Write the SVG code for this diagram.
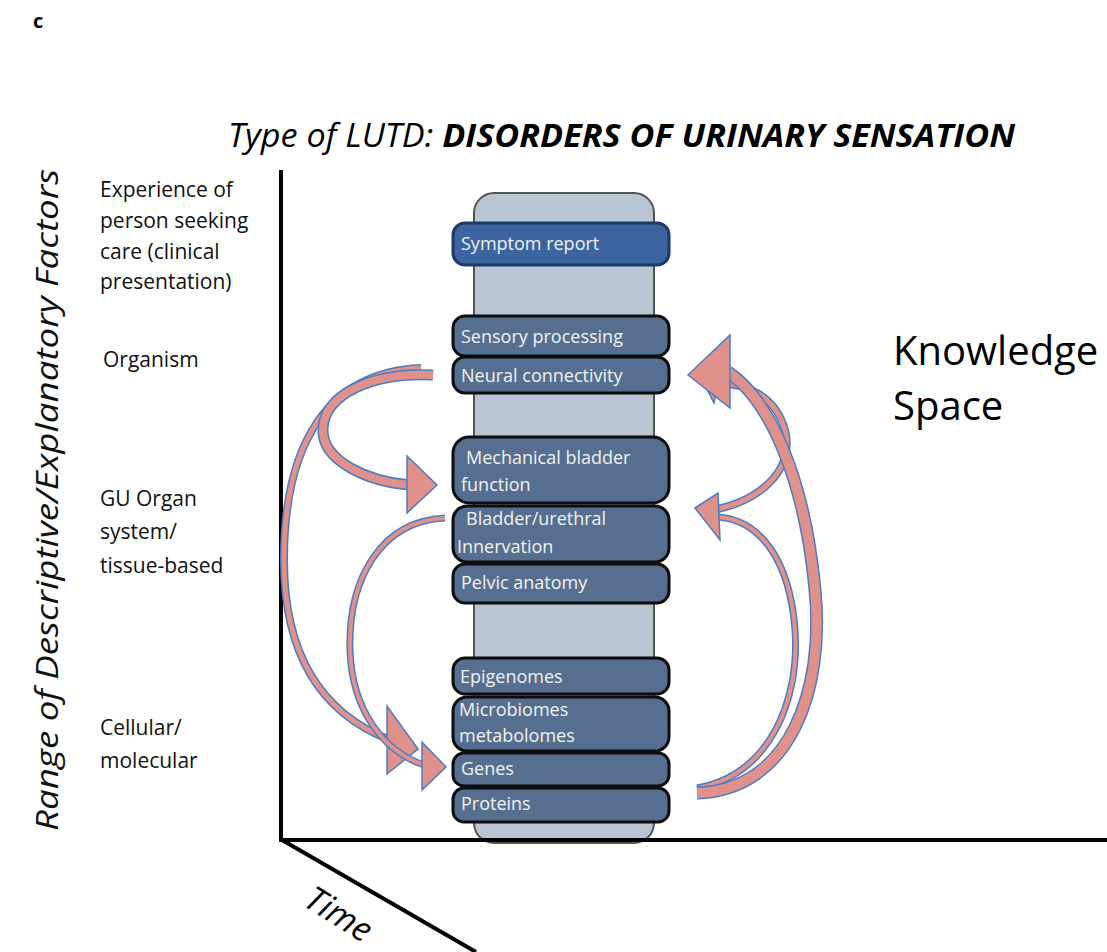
<svg xmlns="http://www.w3.org/2000/svg" width="1107" height="952" viewBox="0 0 1107 952">
  <style>
    .lbl { font-family: "Open Sans", "Liberation Sans", sans-serif; font-size: 21px; fill: #111; }
    .box { fill: #566f90; stroke: #0d0d0d; stroke-width: 3; }
    .bt { font-family: "Open Sans", "Liberation Sans", sans-serif; font-size: 18px; fill: #f2f2f2; }
    .axis { stroke: #000; stroke-width: 4; fill: none; }
    .sh-o { fill: none; stroke: #4a7cc4; stroke-linecap: butt; }
    .sh-i { fill: none; stroke: #e0918b; stroke-linecap: butt; }
    .head { fill: #e0918b; stroke: #4a7cc4; stroke-width: 1.5; stroke-linejoin: miter; }
  </style>

  <!-- panel letter and title -->
  <text x="33" y="28" font-family="Open Sans, Liberation Sans, sans-serif" font-size="20" font-weight="bold" fill="#000">c</text>
  <text x="228" y="147" font-family="Open Sans, Liberation Sans, sans-serif" font-size="33" font-style="italic" fill="#000" textLength="787" lengthAdjust="spacingAndGlyphs">Type of LUTD: <tspan font-weight="bold">DISORDERS OF URINARY SENSATION</tspan></text>

  <!-- axis titles -->
  <text transform="translate(58,500) rotate(-90)" text-anchor="middle" font-family="Open Sans, Liberation Sans, sans-serif" font-size="31" font-style="italic" fill="#111" textLength="662" lengthAdjust="spacingAndGlyphs">Range of Descriptive/Explanatory Factors</text>
  <text transform="translate(302,905) rotate(32)" font-family="Open Sans, Liberation Sans, sans-serif" font-size="34" font-style="italic" fill="#000">Time</text>

  <!-- level labels -->
  <g id="level-labels">
    <text class="lbl" x="100" y="197">Experience of</text>
    <text class="lbl" x="100" y="228">person seeking</text>
    <text class="lbl" x="100" y="259">care (clinical</text>
    <text class="lbl" x="100" y="289">presentation)</text>
    <text class="lbl" x="103" y="367">Organism</text>
    <text class="lbl" x="100" y="506">GU Organ</text>
    <text class="lbl" x="100" y="539">system/</text>
    <text class="lbl" x="100" y="573">tissue-based</text>
    <text class="lbl" x="100" y="735">Cellular/</text>
    <text class="lbl" x="100" y="768">molecular</text>
  </g>

  <!-- knowledge column -->
  <g id="column">
    <rect x="474" y="193" width="180" height="650" rx="20" fill="#b9c5d3" stroke="#555" stroke-width="2"/>
  </g>

  <!-- axes -->
  <g id="axes">
    <line class="axis" x1="281" y1="170" x2="281" y2="842"/>
    <line class="axis" x1="279" y1="840" x2="1107" y2="840"/>
    <line class="axis" x1="282" y1="840" x2="476" y2="952"/>
  </g>

  <g id="symptom-report">
    <rect x="453" y="223" width="216" height="42" rx="12" fill="#3b64a0" stroke="#1c3b66" stroke-width="3"/>
    <text class="bt" x="461" y="250">Symptom report</text>
  </g>
  <g id="sensory-processing">
    <rect class="box" x="453" y="316" width="216" height="40" rx="12"/>
    <text class="bt" x="461" y="343">Sensory processing</text>
  </g>
  <g id="neural-connectivity">
    <rect class="box" x="453" y="357" width="216" height="36" rx="12"/>
    <text class="bt" x="461" y="382">Neural connectivity</text>
  </g>
  <g id="mechanical-bladder-function">
    <rect class="box" x="453" y="437" width="216" height="66" rx="16"/>
    <text class="bt" x="466" y="464">Mechanical bladder</text>
    <text class="bt" x="461" y="491">function</text>
  </g>
  <g id="bladder-urethral-innervation">
    <rect class="box" x="453" y="506" width="216" height="56" rx="14"/>
    <text class="bt" x="466" y="525">Bladder/urethral</text>
    <text class="bt" x="457" y="553">Innervation</text>
  </g>
  <g id="pelvic-anatomy">
    <rect class="box" x="453" y="564" width="216" height="39" rx="12"/>
    <text class="bt" x="461" y="589">Pelvic anatomy</text>
  </g>
  <g id="epigenomes">
    <rect class="box" x="453" y="658" width="216" height="36" rx="12"/>
    <text class="bt" x="460" y="683">Epigenomes</text>
  </g>
  <g id="microbiomes-metabolomes">
    <rect class="box" x="453" y="697" width="216" height="54" rx="14"/>
    <text class="bt" x="459" y="716">Microbiomes</text>
    <text class="bt" x="459" y="742">metabolomes</text>
  </g>
  <g id="genes">
    <rect class="box" x="453" y="753" width="216" height="33" rx="11"/>
    <text class="bt" x="461" y="775">Genes</text>
  </g>
  <g id="proteins">
    <rect class="box" x="453" y="788" width="216" height="34" rx="11"/>
    <text class="bt" x="461" y="810">Proteins</text>
  </g>

  <!-- curved block arrows between levels -->
  <g id="connectors">
    <!-- neural connectivity -> genes (outer left sweep) -->
    <path class="sh-o" stroke-width="8" d="M421,368 C 330,372 284,440 284,560 C 284,650 318,712 390,740"/>
    <path class="sh-i" stroke-width="5" d="M421,368 C 330,372 284,440 284,560 C 284,650 318,712 390,740"/>
    <polygon class="head" points="418,749 387,706 387,774"/>

    <!-- bladder/urethral innervation -> genes -->
    <path class="sh-o" stroke-width="7" d="M445,518 C 380,521 348,580 350,650 C 352,712 385,752 424,765"/>
    <path class="sh-i" stroke-width="4" d="M445,518 C 380,521 348,580 350,650 C 352,712 385,752 424,765"/>
    <polygon class="head" points="446,767 422,742 422,790"/>

    <!-- neural connectivity -> mechanical bladder function -->
    <path class="sh-o" stroke-width="11" d="M433,375 C 370,372 325,395 323,428 C 321,462 370,482 410,485"/>
    <path class="sh-i" stroke-width="8" d="M433,375 C 370,372 325,395 323,428 C 321,462 370,482 410,485"/>
    <polygon class="head" points="437,485 407,456 407,513"/>

    <!-- bladder/urethral innervation -> neural connectivity -->
    <path class="sh-o" stroke-width="8" d="M700,512 C 760,505 795,470 785,430 C 775,395 745,382 714,384"/>
    <path class="sh-i" stroke-width="5" d="M700,512 C 760,505 795,470 785,430 C 775,395 745,382 714,384"/>
    <polygon class="head" points="697,370 724,350 714,403"/>

    <!-- genes -> bladder/urethral innervation -->
    <path class="sh-o" stroke-width="7" d="M697,788 C 770,775 800,700 795,630 C 790,560 760,520 718,517"/>
    <path class="sh-i" stroke-width="4" d="M697,788 C 770,775 800,700 795,630 C 790,560 760,520 718,517"/>
    <polygon class="head" points="695,508 718,493 720,540"/>

    <!-- genes -> neural connectivity (outer right sweep) -->
    <path class="sh-o" stroke-width="13" d="M697,793 C 790,790 825,690 815,590 C 805,480 770,400 728,372"/>
    <path class="sh-i" stroke-width="10" d="M697,793 C 790,790 825,690 815,590 C 805,480 770,400 728,372"/>
    <polygon class="head" points="688,375 730,335 730,408"/>
  </g>

  <!-- knowledge space label -->
  <text x="893" y="365" font-family="Open Sans, Liberation Sans, sans-serif" font-size="40" fill="#000">Knowledge</text>
  <text x="893" y="420" font-family="Open Sans, Liberation Sans, sans-serif" font-size="40" fill="#000">Space</text>
</svg>
